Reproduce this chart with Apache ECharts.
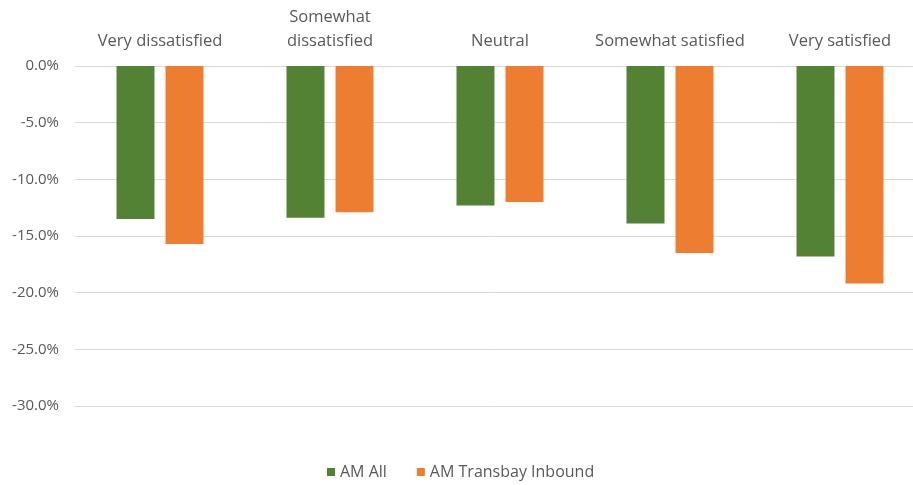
<!DOCTYPE html>
<html>
<head>
<meta charset="utf-8">
<script src="https://cdn.jsdelivr.net/npm/echarts@6/dist/echarts.min.js"></script>
<style>
  html, body { margin: 0; padding: 0; background: #ffffff; }
  #chart { width: 913px; height: 485px; }
</style>
</head>
<body>
<div id="chart"></div>
<script>
// Satisfaction categories along the top axis
const categories = ['Very dissatisfied', 'Somewhat dissatisfied', 'Neutral', 'Somewhat satisfied', 'Very satisfied'];
// Percentage change per group
const amAll = [-13.5, -13.4, -12.3, -13.9, -16.8];
const amTransbayInbound = [-15.7, -12.9, -12.0, -16.5, -19.2];
// Value axis range and step
const axisMin = -30;
const axisMax = 0;
const axisStep = 5;

const FONT = 'Open Sans, Liberation Sans, DejaVu Sans, sans-serif';
const TEXT = '#595959';

const chart = echarts.init(document.getElementById('chart'), null, { renderer: 'canvas' });
chart.setOption({
  animation: false,
  backgroundColor: '#ffffff',
  textStyle: { fontFamily: FONT },
  grid: { left: 75, right: -12, top: 66, bottom: 79, containLabel: false, outerBoundsMode: 'none' },
  legend: {
    bottom: 0,
    left: 322,
    itemWidth: 8,
    itemHeight: 8,
    itemGap: 30,
    icon: 'rect',
    textStyle: { color: TEXT, fontSize: 16, fontFamily: FONT },
    data: ['AM All', 'AM Transbay Inbound']
  },
  xAxis: {
    type: 'category',
    position: 'top',
    data: categories,
    axisTick: { show: false },
    axisLine: { show: true, lineStyle: { color: '#d9d9d9', width: 1 } },
    axisLabel: {
      color: TEXT,
      fontSize: 16.5,
      fontFamily: FONT,
      margin: 13,
      lineHeight: 24,
      interval: 0,
      formatter: (v) => v.length > 19 ? v.replace(' ', '\n') : v
    }
  },
  yAxis: {
    type: 'value',
    min: axisMin,
    max: axisMax,
    interval: axisStep,
    axisLine: { show: false },
    axisTick: { show: false },
    splitLine: { lineStyle: { color: '#d9d9d9', width: 1 } },
    axisLabel: {
      color: TEXT,
      fontSize: 15,
      fontFamily: FONT,
      margin: 16,
      formatter: (v) => v.toFixed(1) + '%'
    }
  },
  series: [
    {
      name: 'AM All',
      type: 'bar',
      data: amAll,
      barWidth: 38,
      barGap: '29%',
      itemStyle: { color: '#548235' }
    },
    {
      name: 'AM Transbay Inbound',
      type: 'bar',
      data: amTransbayInbound,
      barWidth: 38,
      barGap: '29%',
      itemStyle: { color: '#ED7D31' }
    }
  ]
});
</script>
</body>
</html>
